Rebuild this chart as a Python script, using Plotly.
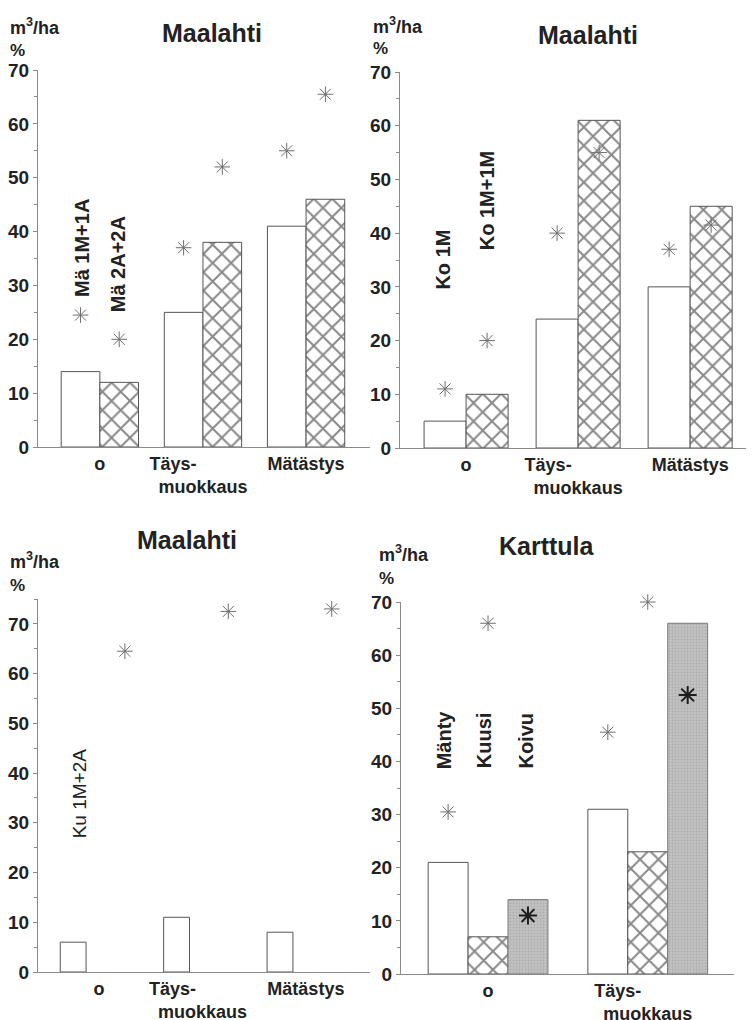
import plotly.graph_objects as go

# ---------------- data ----------------
cats_m = ["o", "Täys-" + "\u00a0" * 12 + "<br>muokkaus", "Mätästys"]
cats_k = ["o", "Täys-" + "\u00a0" * 12 + "<br>muokkaus"]

# Panel 1 (Maalahti, Mä)
p1_names = ["Mä 1M+1A", "Mä 2A+2A"]
p1_vol_a = [14, 25, 41]
p1_vol_b = [12, 38, 46]
p1_pct_a = [24.5, 37, 55]
p1_pct_b = [20, 52, 65.5]

# Panel 2 (Maalahti, Ko)
p2_names = ["Ko 1M", "Ko 1M+1M"]
p2_vol_a = [5, 24, 30]
p2_vol_b = [10, 61, 45]
p2_pct_a = [11, 40, 37]
p2_pct_b = [20, 55, 41.5]

# Panel 3 (Maalahti, Ku)
p3_names = ["Ku 1M+2A"]
p3_vol = [6, 11, 8]
p3_pct = [64.5, 72.5, 73]

# Panel 4 (Karttula)
p4_names = ["Mänty", "Kuusi", "Koivu"]
p4_vol_manty = [21, 31]
p4_vol_kuusi = [7, 23]
p4_vol_koivu = [14, 66]
p4_pct_manty = [30.5, 45.5]
p4_pct_kuusi = [66, 70]
p4_pct_koivu = [11, 52.5]

titles = ["Maalahti", "Maalahti", "Maalahti", "Karttula"]
y_ticks = [0, 10, 20, 30, 40, 50, 60, 70]

# ---------------- styles ----------------
FONT = "Liberation Sans, Arial, sans-serif"
LINE = "#555555"
AXIS = "#8a8a8a"
TXT = "#222222"

white_marker = dict(color="white", line=dict(color=LINE, width=1))
hatch_marker = dict(color="white", line=dict(color=LINE, width=1),
                    pattern=dict(shape="x", fgcolor="#111111", bgcolor="white",
                                 size=13, solidity=0.28, fillmode="overlay"))
gray_marker = dict(color="#b8b8b8", line=dict(color="#7a7a7a", width=1),
                   pattern=dict(shape=".", fgcolor="#9a9a9a", bgcolor="#c2c2c2",
                                size=3, solidity=0.35, fillmode="overlay"))
star_light = dict(symbol="asterisk-open", size=13, color="#6e6e6e",
                  line=dict(color="#6e6e6e", width=1))
star_dark = dict(symbol="asterisk-open", size=15, color="#1e1e1e",
                 line=dict(color="#1e1e1e", width=2))

fig = go.Figure()


def add_bar(x, y, marker, xa, ya, og):
    fig.add_trace(go.Bar(x=x, y=y, marker=marker, xaxis=xa, yaxis=ya,
                         offsetgroup=og, showlegend=False, hoverinfo="y"))


def add_star(x, y, marker, xa, ya, og):
    fig.add_trace(go.Scatter(x=x, y=y, mode="markers", marker=marker,
                             xaxis=xa, yaxis=ya, offsetgroup=og,
                             cliponaxis=False, showlegend=False, hoverinfo="y"))


# Panel 1
add_bar(cats_m, p1_vol_a, white_marker, "x", "y", "a")
add_bar(cats_m, p1_vol_b, hatch_marker, "x", "y", "b")
add_star(cats_m, p1_pct_a, star_light, "x", "y", "a")
add_star(cats_m, p1_pct_b, star_light, "x", "y", "b")

# Panel 2
add_bar(cats_m, p2_vol_a, white_marker, "x2", "y2", "a")
add_bar(cats_m, p2_vol_b, hatch_marker, "x2", "y2", "b")
add_star(cats_m, p2_pct_a, star_light, "x2", "y2", "a")
add_star(cats_m, p2_pct_b, star_light, "x2", "y2", "b")

# Panel 3 (second series has no data); stars centred on an overlay axis
add_bar(cats_m, p3_vol, white_marker, "x3", "y3", "a")
add_bar(cats_m, [None, None, None], hatch_marker, "x3", "y3", "b")
add_star(cats_m, p3_pct, star_light, "x5", "y3", "c")

# Panel 4
add_bar(cats_k, p4_vol_manty, white_marker, "x4", "y4", "a")
add_bar(cats_k, p4_vol_kuusi, hatch_marker, "x4", "y4", "b")
add_bar(cats_k, p4_vol_koivu, gray_marker, "x4", "y4", "c")
add_star(cats_k, p4_pct_manty, star_light, "x4", "y4", "a")
add_star(cats_k, p4_pct_kuusi, star_light, "x4", "y4", "b")
add_star(cats_k, p4_pct_koivu, star_dark, "x4", "y4", "c")

# ---------------- axes ----------------
# the page body has an 8px margin, so the figure is drawn 8px smaller
OFF = 8
W, H = 754 - OFF, 1020 - OFF


def xd(a, b):
    return [(a - OFF) / W, min(1.0, (b - OFF) / W)]


def yd(top, bottom):
    return [1 - (bottom - OFF) / H, 1 - (top - OFF) / H]


def px_x(v):
    return (v - OFF) / W


def px_y(v):
    return 1 - (v - OFF) / H


xcommon = dict(type="category", showline=True, linecolor=AXIS, linewidth=1,
               ticks="", showgrid=False, zeroline=False, fixedrange=True,
               automargin=False,
               tickfont=dict(family=FONT, size=18, color=TXT, weight="bold"))
ycommon = dict(showline=True, linecolor=AXIS, linewidth=1, ticks="outside",
               ticklen=4, tickcolor=AXIS, tickvals=y_ticks, showgrid=False,
               zeroline=False, fixedrange=True, automargin=False,
               minor=dict(dtick=5, ticks="outside", ticklen=3, tickcolor=AXIS),
               tickfont=dict(family=FONT, size=19, color=TXT, weight="bold"))

fig.update_layout(
    width=W, height=H, margin=dict(l=0, r=0, t=0, b=0, autoexpand=False),
    paper_bgcolor="white", plot_bgcolor="white",
    barmode="group", bargap=0.25, scattermode="group", scattergap=0.25,
    showlegend=False,
    xaxis=dict(xcommon, domain=xd(38, 370), anchor="y", range=[-0.6, 2.62]),
    yaxis=dict(ycommon, domain=yd(70, 447), anchor="x", range=[0, 70]),
    xaxis2=dict(xcommon, domain=xd(400, 754), anchor="y2", range=[-0.59, 2.57]),
    yaxis2=dict(ycommon, domain=yd(72, 448), anchor="x2", range=[0, 70]),
    xaxis3=dict(xcommon, domain=xd(38, 370), anchor="y3", range=[-0.59, 2.62]),
    yaxis3=dict(ycommon, domain=yd(599, 972), anchor="x3", range=[0, 75]),
    xaxis4=dict(xcommon, domain=xd(401, 734), anchor="y4", range=[-0.545, 1.54]),
    yaxis4=dict(ycommon, domain=yd(602, 974), anchor="x4", range=[0, 70]),
    xaxis5=dict(type="category", overlaying="x3", matches="x3", visible=False,
                anchor="y3", fixedrange=True),
)

# ---------------- text ----------------
ann = []
title_pos = [(212, 33), (588, 35), (187, 540), (547, 546)]
for t, (px, py) in zip(titles, title_pos):
    ann.append(dict(text=t, xref="paper", yref="paper", x=px_x(px), y=px_y(py),
                    xanchor="center", yanchor="middle", showarrow=False,
                    font=dict(family=FONT, size=25, color=TXT, weight="bold")))

unit_pos = [(8, 26, 51), (371, 25, 49), (8, 560, 585), (377, 553, 578)]
for px, py1, py2 in unit_pos:
    ann.append(dict(text="m<sup>3</sup>/ha", xref="paper", yref="paper",
                    x=px_x(px), y=px_y(py1), xanchor="left", yanchor="middle",
                    showarrow=False,
                    font=dict(family=FONT, size=18, color=TXT, weight="bold")))
    ann.append(dict(text="%", xref="paper", yref="paper",
                    x=px_x(px), y=px_y(py2), xanchor="left", yanchor="middle",
                    showarrow=False,
                    font=dict(family=FONT, size=17, color=TXT, weight="bold")))

series_labels = [
    ("x", "y", p1_names[0], -0.18, 37, True),
    ("x", "y", p1_names[1], 0.17, 34, True),
    ("x2", "y2", p2_names[0], -0.21, 35, True),
    ("x2", "y2", p2_names[1], 0.19, 46, True),
    ("x3", "y3", p3_names[0], -0.18, 36, False),
    ("x4", "y4", p4_names[0], -0.275, 44, True),
    ("x4", "y4", p4_names[1], -0.025, 44, True),
    ("x4", "y4", p4_names[2], 0.24, 44, True),
]
for xa, ya, txt, xv, yv, bold in series_labels:
    ann.append(dict(text=txt, xref=xa, yref=ya, x=xv, y=yv, textangle=-90,
                    xanchor="center", yanchor="middle", showarrow=False,
                    font=dict(family=FONT, size=20 if bold else 19,
                              color=TXT,
                              weight="bold" if bold else "normal")))

fig.update_layout(annotations=ann)
fig.write_html("out.html")
